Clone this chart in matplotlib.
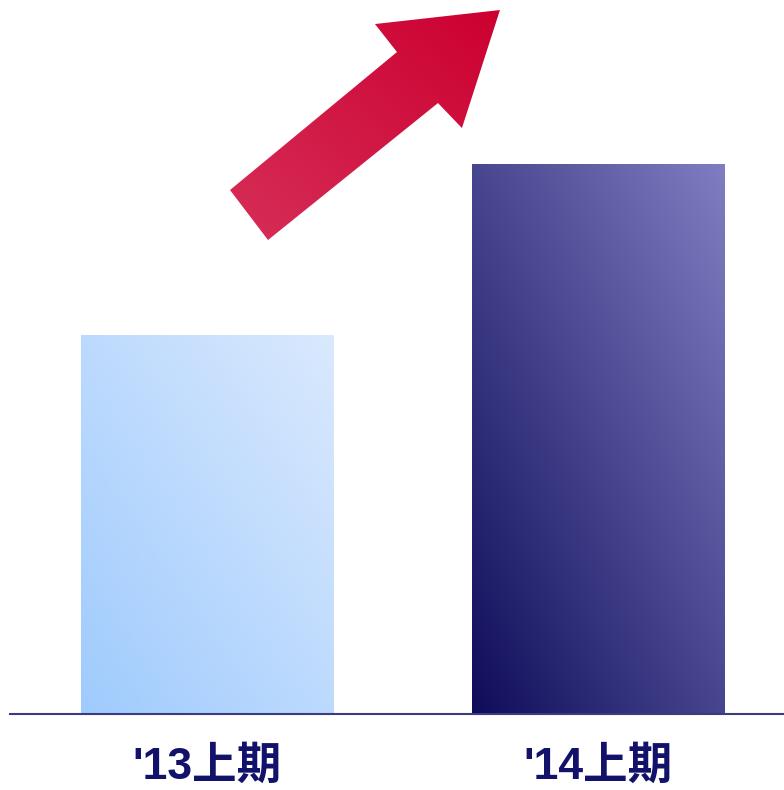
import numpy as np
import matplotlib
matplotlib.use("Agg")
import matplotlib.pyplot as plt
from matplotlib.patches import Polygon
from matplotlib.colors import LinearSegmentedColormap

plt.rcParams['font.family'] = ['Liberation Sans', 'Noto Sans CJK JP', 'DejaVu Sans']

# data
periods = ["'13上期", "'14上期"]
values = [100, 145]
bar_colors = [("#9fcbfd", "#dae9fd"), ("#0f0d5a", "#7f7ec2")]

fig = plt.figure(figsize=(7.84, 7.90), dpi=100)
ax = fig.add_axes([10 / 784, 76 / 790, 774 / 784, 714 / 790])

x = np.arange(len(periods))
width = 0.645

# diagonal gradient (bottom-left -> top-right)
gx, gy = np.meshgrid(np.linspace(0, 1, 200), np.linspace(0, 1, 200))
grad = (gx + gy) / 2

bars = ax.bar(x, values, width=width, color="none", edgecolor="none")
for b, (c0, c1) in zip(bars, bar_colors):
    cmap = LinearSegmentedColormap.from_list("g", [c0, c1])
    x0, y0 = b.get_x(), 0
    x1, y1 = x0 + b.get_width(), b.get_height()
    im = ax.imshow(grad, cmap=cmap, extent=[x0, x1, y0, y1], origin="lower",
                   aspect="auto", interpolation="bilinear", zorder=2)
    im.set_clip_path(b)

# red arrow (pixel outline -> data coords)
px_pts = [(230, 190), (397, 52), (375, 24), (500, 10), (462, 128),
          (438, 103), (268, 240)]
pts = [((px - 207) / 391, (714 - py) / 3.79) for px, py in px_pts]
arrow = Polygon(pts, closed=True, facecolor="none", edgecolor="none")
ax.add_patch(arrow)
acmap = LinearSegmentedColormap.from_list("a", ["#d62e58", "#cc0030"])
xs = [p[0] for p in pts]
ys = [p[1] for p in pts]
im = ax.imshow(grad, cmap=acmap, extent=[min(xs), max(xs), min(ys), max(ys)],
               origin="lower", aspect="auto", interpolation="bilinear", zorder=3)
im.set_clip_path(arrow)
ax.set_xlim(-0.504, 1.476)
ax.set_ylim(0, 188.4)

for s in ["top", "right", "left"]:
    ax.spines[s].set_visible(False)
ax.spines["bottom"].set_color("#3b3b84")
ax.spines["bottom"].set_linewidth(1.5)
ax.spines["bottom"].set_zorder(5)
ax.set_yticks([])
ax.set_xticks(x)
ax.set_xticklabels(periods, fontsize=32, fontweight="bold", color="#12126a")
ax.tick_params(axis="x", length=0, pad=23)

fig.savefig("out.png", dpi=100)
